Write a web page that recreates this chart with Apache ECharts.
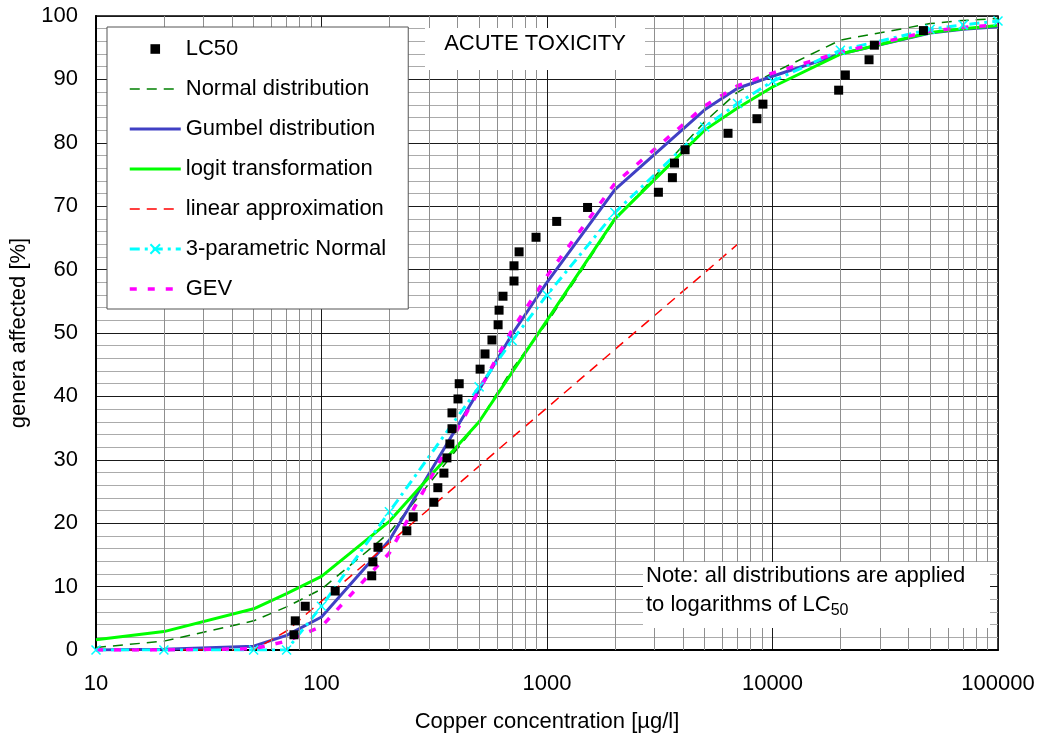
<!DOCTYPE html>
<html>
<head>
<meta charset="utf-8">
<script src="https://cdn.jsdelivr.net/npm/echarts@6/dist/echarts.min.js"></script>
<style>
  html, body { margin: 0; padding: 0; background: #fff; }
  #chart { width: 1039px; height: 736px; }
</style>
</head>
<body>
<div id="chart"></div>
<script>
// Decade tick labels on the concentration axis
const xTicks = [10, 100, 1000, 10000, 100000];

// Concentrations (µg/l) at which the fitted curves are evaluated
const conc = [10, 20, 50, 70, 100, 200, 500, 700, 1000, 2000, 5000, 7000, 10000, 20000, 50000, 70000, 100000];

// Fitted curves, % of genera affected at each concentration above
const normalDist = [0.4, 1.4, 4.6, 6.8, 9.6, 18.5, 36.0, 44.3, 51.6, 67.8, 83.3, 88.0, 91.0, 96.2, 98.8, 99.3, 99.6];
const gumbelDist = [0.0, 0.1, 0.6, 2.3, 5.2, 17.3, 41.0, 49.8, 58.0, 72.6, 85.2, 88.6, 90.5, 94.0, 97.3, 97.9, 98.3];
const logitTrans = [1.6, 2.9, 6.5, 8.9, 11.6, 20.3, 36.0, 43.8, 52.0, 68.0, 82.0, 85.5, 88.8, 94.0, 97.4, 98.0, 98.5];
const linearApprox = [0, 0, 0, 3.0, 7.7, 16.9, 29.0, 33.5, 38.2, 47.4, 59.5, 64.0];
const normal3p = [0, 0, 0, 0, 6.9, 21.8, 41.5, 48.8, 56.0, 69.0, 82.5, 86.2, 89.7, 94.6, 97.9, 98.6, 99.2];
const gevDist = [0, 0, 0.2, 1.4, 3.7, 15.3, 41.0, 50.5, 59.0, 73.6, 85.8, 89.0, 91.0, 94.3, 97.6, 98.2, 98.6];

// Observed LC50 values per genus and their cumulative rank (%)
const lc50Conc = [75.5, 76.5, 84.7, 115, 167, 169, 178, 239, 255, 315, 328, 349, 360, 371, 379, 379, 403, 408,
  505, 531, 570, 607, 613, 638, 714, 714, 752, 894, 1104, 1513, 3119, 3598, 3676, 4096, 6350, 8530, 9070,
  19650, 21040, 26800, 28300, 46700];
const lc50Pct = [2.4, 4.6, 6.9, 9.3, 11.7, 13.9, 16.2, 18.8, 21.0, 23.3, 25.6, 27.9, 30.3, 32.5, 34.9, 37.4, 39.6, 42.0,
  44.3, 46.7, 48.9, 51.3, 53.6, 55.8, 58.2, 60.6, 62.8, 65.1, 67.6, 69.8, 72.2, 74.5, 76.8, 78.9, 81.5, 83.8, 86.1,
  88.3, 90.7, 93.1, 95.4, 97.7];

const seriesNames = ['LC50', 'Normal distribution', 'Gumbel distribution', 'logit transformation',
  'linear approximation', '3-parametric Normal', 'GEV'];

const FONT = '"Liberation Sans", Arial, sans-serif';

// intermediate log grid lines 2..9 within each decade
const minorX = [];
for (let d = 10; d < 100000; d *= 10) {
  for (let k = 2; k <= 9; k++) minorX.push(k * d);
}

const pairs = (xs, ys) => ys.map((y, i) => [xs[i], y]);

const crossSymbol = 'path://M0,0 L10,10 M10,0 L0,10';

const chart = echarts.init(document.getElementById('chart'), null, { renderer: 'canvas' });

chart.setOption({
  animation: false,
  backgroundColor: '#fff',
  textStyle: { fontFamily: FONT },
  grid: {
    left: 96, right: 41, top: 16, bottom: 86,
    outerBoundsMode: 'none',
    containLabel: false,
    show: true, borderColor: '#000', borderWidth: 1.5, backgroundColor: 'transparent'
  },
  xAxis: {
    type: 'log', logBase: 10, min: 10, max: 100000,
    name: 'Copper concentration [µg/l]',
    nameLocation: 'middle', nameGap: 61,
    nameTextStyle: { fontSize: 22, color: '#000', fontFamily: FONT },
    axisLine: { show: true, lineStyle: { color: '#000', width: 2 } },
    axisTick: { show: false },
    axisLabel: {
      fontSize: 22, color: '#000', margin: 23, fontFamily: FONT,
      formatter: v => {
        const r = Math.round(v);
        return xTicks.indexOf(r) >= 0 ? String(r) : '';
      }
    },
    splitLine: { show: true, lineStyle: { color: '#1a1a1a', width: 1 } },
    minorTick: { show: false },
    minorSplitLine: { show: false }
  },
  yAxis: {
    type: 'value', min: 0, max: 100, interval: 10,
    name: 'genera affected [%]',
    nameLocation: 'middle', nameGap: 64, nameRotate: 90,
    nameTextStyle: { fontSize: 22, color: '#000', fontFamily: FONT },
    axisLine: { show: true, lineStyle: { color: '#000', width: 2 } },
    axisTick: { show: false },
    axisLabel: { fontSize: 22, color: '#000', margin: 18, fontFamily: FONT },
    splitLine: { show: true, lineStyle: { color: '#1a1a1a', width: 1 } },
    minorTick: { show: false, splitNumber: 5 },
    minorSplitLine: { show: true, lineStyle: { color: '#ababab', width: 1 } }
  },
  legend: {
    orient: 'vertical',
    left: 107, top: 27,
    z: 20,
    padding: [11, 22, 9, 21],
    itemGap: 18,
    itemWidth: 51, itemHeight: 12,
    backgroundColor: '#fff',
    borderColor: '#555', borderWidth: 1,
    textStyle: { fontSize: 22, color: '#000', fontFamily: FONT },
    lineStyle: { width: 'inherit' },
    selectedMode: false,
    data: [
      { name: 'LC50', itemStyle: { opacity: 1 } },
      { name: 'Normal distribution', itemStyle: { opacity: 0 } },
      { name: 'Gumbel distribution', itemStyle: { opacity: 0 } },
      { name: 'logit transformation', itemStyle: { opacity: 0 } },
      { name: 'linear approximation', itemStyle: { opacity: 0 } },
      { name: '3-parametric Normal', itemStyle: { opacity: 1 } },
      { name: 'GEV', itemStyle: { opacity: 0 } }
    ]
  },
  graphic: [
    { type: 'rect', z: 100, shape: { x: 425, y: 28, width: 220, height: 42 }, style: { fill: '#fff' } },
    {
      type: 'text', z: 101, x: 535, y: 44,
      style: {
        text: 'ACUTE TOXICITY', fontSize: 22, fontFamily: FONT, fill: '#000',
        textAlign: 'center', textVerticalAlign: 'middle'
      }
    },
    { type: 'rect', z: 100, shape: { x: 643, y: 562, width: 347, height: 66 }, style: { fill: '#fff' } },
    {
      type: 'text', z: 101, x: 646, y: 561,
      style: {
        text: 'Note: all distributions are applied\nto logarithms of LC{sub|50}',
        fontSize: 22, fontFamily: FONT, fill: '#000', lineHeight: 29,
        rich: {
          sub: { fontSize: 16, fontFamily: FONT, lineHeight: 16, verticalAlign: 'bottom', fill: '#000' }
        }
      }
    }
  ],
  series: [
    {
      name: 'minor-grid', type: 'line', data: [], z: 1, silent: true,
      markLine: {
        silent: true, animation: false, symbol: ['none', 'none'],
        label: { show: false },
        emphasis: { disabled: true },
        lineStyle: { color: '#8f8f8f', width: 1, type: 'solid' },
        data: minorX.map(v => ({ xAxis: v }))
      }
    },
    {
      name: seriesNames[1], type: 'line', data: pairs(conc, normalDist), symbol: 'none', z: 3,
      lineStyle: { color: '#008000', width: 1.5, type: [10, 7] }, itemStyle: { color: '#008000' }
    },
    {
      name: seriesNames[2], type: 'line', data: pairs(conc, gumbelDist), symbol: 'none', z: 3,
      lineStyle: { color: '#4040c4', width: 3 }, itemStyle: { color: '#4040c4' }
    },
    {
      name: seriesNames[3], type: 'line', data: pairs(conc, logitTrans), symbol: 'none', z: 3,
      lineStyle: { color: '#00ff00', width: 3 }, itemStyle: { color: '#00ff00' }
    },
    {
      name: seriesNames[4], type: 'line', data: pairs(conc, linearApprox), symbol: 'none', z: 3,
      lineStyle: { color: '#ff0000', width: 1.5, type: [10, 7] }, itemStyle: { color: '#ff0000' }
    },
    {
      name: seriesNames[5], type: 'line', data: pairs(conc, normal3p), z: 4,
      symbol: crossSymbol, symbolSize: 9, showSymbol: true,
      lineStyle: { color: '#00ffff', width: 3, type: [10, 5, 3, 5] },
      itemStyle: { color: '#00ffff', borderColor: '#00ffff', borderWidth: 1.5 }
    },
    {
      name: seriesNames[6], type: 'line', data: pairs(conc, gevDist), symbol: 'none', z: 4,
      lineStyle: { color: '#ff00ff', width: 3.5, type: [7, 11] }, itemStyle: { color: '#ff00ff' }
    },
    {
      name: seriesNames[0], type: 'line', data: pairs(lc50Conc, lc50Pct), z: 6,
      symbol: 'rect', symbolSize: 9, showSymbol: true,
      lineStyle: { width: 0, color: '#000' },
      itemStyle: { color: '#000' }
    }
  ]
});
</script>
</body>
</html>
